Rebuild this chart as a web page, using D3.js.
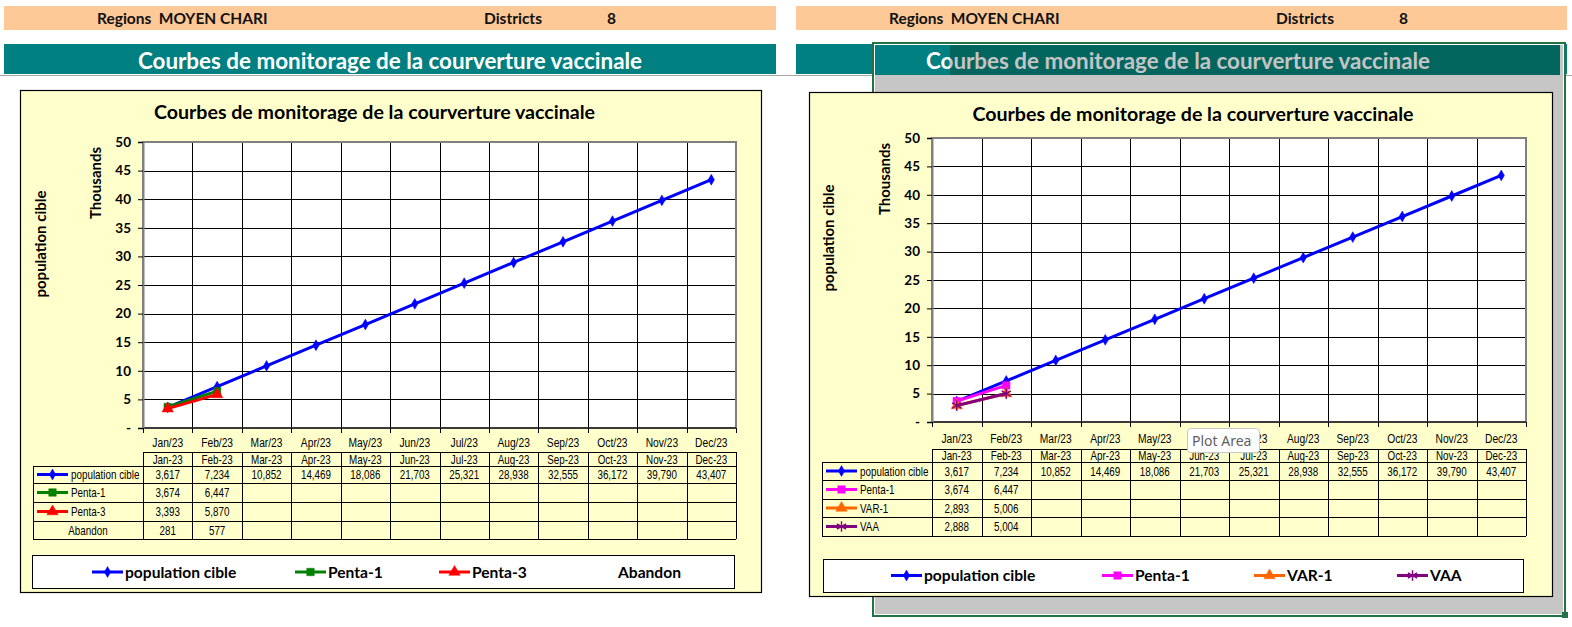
<!DOCTYPE html>
<html><head><meta charset="utf-8">
<script src="https://cdn.jsdelivr.net/npm/d3@7"></script>
<style>
html,body{margin:0;padding:0;background:#fff;}
svg{display:block;}
text{white-space:pre;}
</style></head><body>
<svg id="c" width="1572" height="627"></svg>
<script>
// ---------------- DATA ----------------
const monthsAxis  = ["Jan/23","Feb/23","Mar/23","Apr/23","May/23","Jun/23","Jul/23","Aug/23","Sep/23","Oct/23","Nov/23","Dec/23"];
const monthsTable = ["Jan-23","Feb-23","Mar-23","Apr-23","May-23","Jun-23","Jul-23","Aug-23","Sep-23","Oct-23","Nov-23","Dec-23"];
const popCible = [3617,7234,10852,14469,18086,21703,25321,28938,32555,36172,39790,43407];
const penta1   = [3674,6447];
const penta3   = [3393,5870];
const abandon  = [281,577];
const var1     = [2893,5006];
const vaa      = [2888,5004];
const yTicks      = [0,5000,10000,15000,20000,25000,30000,35000,40000,45000,50000];
const yTickLabels = ["-","5","10","15","20","25","30","35","40","45","50"];
const headerRegion = "Regions  MOYEN CHARI";
const headerDistrictsLabel = "Districts";
const headerDistrictsValue = "8";
const mainTitle = "Courbes de monitorage de la courverture vaccinale";

// ---------------- LAYOUT ----------------
const BOLD = "Lato, 'Open Sans', sans-serif";
const ARIAL = "'Liberation Sans', Arial, sans-serif";
const NARROW = 0.82;
const svg = d3.select("#c");
const defs = svg.append("defs");
defs.append("clipPath").attr("id","clipW").append("rect").attr("x",0).attr("y",0).attr("width",950).attr("height",627);
defs.append("clipPath").attr("id","clipG").append("rect").attr("x",950).attr("y",0).attr("width",700).attr("height",627);

svg.append("rect").attr("width",1572).attr("height",627).attr("fill","#fff");

// header bands
const bands = [{x0:4,x1:776},{x0:796,x1:1567}];
bands.forEach(b=>{
  svg.append("rect").attr("x",b.x0).attr("y",6).attr("width",b.x1-b.x0).attr("height",24).attr("fill","#FCC997");
  svg.append("rect").attr("x",b.x0).attr("y",44).attr("width",b.x1-b.x0).attr("height",30).attr("fill","#008080");
  const t = (x,s)=>svg.append("text").attr("x",x).attr("y",23.5).attr("font-family",BOLD).attr("font-weight","bold").attr("font-size",15.5).attr("fill","#111").text(s);
  t(b.x0+93, headerRegion);
  t(b.x0+480, headerDistrictsLabel);
  t(b.x0+603, headerDistrictsValue);
});
svg.append("line").attr("x1",0).attr("x2",1572).attr("y1",75.5).attr("y2",75.5).attr("stroke","#A6A6A6").attr("stroke-width",1);

// left teal title
svg.append("text").attr("x",390).attr("y",68.5).attr("text-anchor","middle").attr("font-family",BOLD).attr("font-weight","bold").attr("font-size",22.4).attr("fill","#fff").text(mainTitle);

// right selected chart-object overlay
svg.append("rect").attr("x",873).attr("y",43).attr("width",692).attr("height",573).attr("fill","#C6C6C6");
svg.append("rect").attr("x",873).attr("y",44).attr("width",77).attr("height",31).attr("fill","#008080");
svg.append("rect").attr("x",950).attr("y",44).attr("width",610).attr("height",31).attr("fill","#02665F");
svg.append("text").attr("x",1178).attr("y",68.5).attr("text-anchor","middle").attr("font-family",BOLD).attr("font-weight","bold").attr("font-size",22.4).attr("fill","#fff").attr("clip-path","url(#clipW)").text(mainTitle);
svg.append("text").attr("x",1178).attr("y",68.5).attr("text-anchor","middle").attr("font-family",BOLD).attr("font-weight","bold").attr("font-size",22.4).attr("fill","#C4C4C4").attr("clip-path","url(#clipG)").text(mainTitle);
svg.append("rect").attr("x",874.5).attr("y",44.5).attr("width",689).attr("height",570).attr("fill","none").attr("stroke","#fff").attr("stroke-width",1);
svg.append("rect").attr("x",873).attr("y",43).attr("width",692).attr("height",573).attr("fill","none").attr("stroke","#217346").attr("stroke-width",2);
svg.append("rect").attr("x",1562).attr("y",612).attr("width",6).attr("height",6).attr("fill","#217346");

const panels = [
  { box:[20,90,761,592], title:[374.5,118.5], plot:[143,142,736,428], rows:[452,466,483,502,521,539], tableLeft:33,
    legend:[32,555,734,588], legendX:[92,295,439,585], legendY:572, yTitle:[41,244], thTitle:[96,183], catY:447,
    series:[
      {name:"population cible", values:popCible, color:"#0000FF", marker:"diamond"},
      {name:"Penta-1", values:penta1, color:"#008000", marker:"square"},
      {name:"Penta-3", values:penta3, color:"#FF0000", marker:"triangle"},
      {name:"Abandon", values:abandon, color:null}
    ]},
  { box:[809,92,1552,596], title:[1193,120.5], plot:[932,138,1526,422], rows:[449,462,480,499,517,536], tableLeft:822,
    legend:[823,559,1523,592], legendX:[891,1102,1254,1397], legendY:575.5, yTitle:[829,238], thTitle:[885,179], catY:443,
    series:[
      {name:"population cible", values:popCible, color:"#0000FF", marker:"diamond"},
      {name:"Penta-1", values:penta1, color:"#FF00FF", marker:"square"},
      {name:"VAR-1", values:var1, color:"#FF6600", marker:"triangle"},
      {name:"VAA", values:vaa, color:"#800080", marker:"asterisk"}
    ]}
];

function markerPath(type){
  const m = {diamond:[d3.symbolDiamond,34], square:[d3.symbolSquare,56], triangle:[d3.symbolTriangle,56], asterisk:[d3.symbolAsterisk||d3.symbolCross,80]}[type];
  return d3.symbol(m[0], m[1])();
}
function drawMarker(g, type, color, x, y){
  const p = g.append("path").attr("d", markerPath(type)).attr("transform",`translate(${x},${y})`);
  if(type==="asterisk") p.attr("fill","none").attr("stroke",color).attr("stroke-width",1.4);
  else p.attr("fill",color).attr("stroke",color).attr("stroke-width",0.5);
}
function narrowText(g, x, y, s, anchor, size){
  g.append("text").attr("transform",`translate(${x},${y}) scale(${NARROW},1)`)
   .attr("text-anchor",anchor||"middle").attr("font-family",ARIAL).attr("font-size",size||12).attr("fill","#000").text(s);
}

panels.forEach(P=>{
  const g = svg.append("g");
  const [bx0,by0,bx1,by1] = P.box;
  g.append("rect").attr("x",bx0+0.5).attr("y",by0+0.5).attr("width",bx1-bx0).attr("height",by1-by0).attr("fill","#FFFFCC").attr("stroke","#000").attr("stroke-width",1.2);
  g.append("text").attr("x",P.title[0]).attr("y",P.title[1]).attr("text-anchor","middle").attr("font-family",BOLD).attr("font-weight","bold").attr("font-size",19.6).attr("fill","#000").text(mainTitle);

  const [px0,py0,px1,py1] = P.plot;
  const x = d3.scaleBand().domain(monthsAxis).range([px0,px1]);
  const y = d3.scaleLinear().domain([0,50000]).range([py1,py0]);
  const bw = x.bandwidth();
  const cx = i => x(monthsAxis[i]) + bw/2;

  g.append("rect").attr("x",px0).attr("y",py0).attr("width",px1-px0).attr("height",py1-py0).attr("fill","#fff");
  // grid
  const grid = g.append("g");
  yTicks.slice(1,-1).forEach(v=>grid.append("line").attr("x1",px0).attr("x2",px1).attr("y1",Math.round(y(v))+0.5).attr("y2",Math.round(y(v))+0.5).attr("stroke","#000").attr("stroke-width",1));
  monthsAxis.slice(1).forEach(m=>grid.append("line").attr("x1",Math.round(x(m))+0.5).attr("x2",Math.round(x(m))+0.5).attr("y1",py0).attr("y2",py1).attr("stroke","#000").attr("stroke-width",1));
  g.append("rect").attr("x",px0).attr("y",py0).attr("width",px1-px0).attr("height",py1-py0).attr("fill","none").attr("stroke","#808080").attr("stroke-width",2);
  g.append("line").attr("x1",px0).attr("x2",px1).attr("y1",py1).attr("y2",py1).attr("stroke","#3a3a3a").attr("stroke-width",2);

  // y axis
  const ya = g.append("g").attr("transform",`translate(${px0},0)`)
    .call(d3.axisLeft(y).tickValues(yTicks).tickSize(5).tickPadding(7).tickFormat((d,i)=>yTickLabels[i]));
  ya.select(".domain").attr("stroke","#808080").attr("stroke-width",2);
  ya.selectAll(".tick line").attr("stroke","#000");
  ya.selectAll(".tick text").attr("font-family",BOLD).attr("font-weight","bold").attr("font-size",13.5).attr("fill","#000");

  // x tick marks at boundaries
  const bounds = monthsAxis.map(m=>x(m)).concat([px1]);
  bounds.forEach(b=>g.append("line").attr("x1",Math.round(b)+0.5).attr("x2",Math.round(b)+0.5).attr("y1",py1).attr("y2",py1+5).attr("stroke","#000"));
  monthsAxis.forEach((m,i)=>narrowText(g, cx(i), P.catY, m, "middle", 12.5));

  // axis titles
  g.append("text").attr("transform",`translate(${P.yTitle[0]},${P.yTitle[1]}) rotate(-90)`).attr("text-anchor","middle").attr("dy","0.35em")
    .attr("font-family",BOLD).attr("font-weight","bold").attr("font-size",15).attr("fill","#000").text("population cible");
  g.append("text").attr("transform",`translate(${P.thTitle[0]},${P.thTitle[1]}) rotate(-90)`).attr("text-anchor","middle").attr("dy","0.35em")
    .attr("font-family",BOLD).attr("font-weight","bold").attr("font-size",15).attr("fill","#000").text("Thousands");

  // series
  const line = d3.line().x((d,i)=>cx(i)).y(d=>y(d));
  P.series.filter(s=>s.color).forEach(s=>{
    g.append("path").attr("d",line(s.values)).attr("fill","none").attr("stroke",s.color).attr("stroke-width",3);
    s.values.forEach((v,i)=>drawMarker(g, s.marker, s.color, cx(i), y(v)));
  });

  // data table
  const R = P.rows, tl = P.tableLeft;
  const tg = g.append("g");
  const hl = (x1,x2,yy)=>tg.append("line").attr("x1",x1).attr("x2",x2).attr("y1",yy+0.5).attr("y2",yy+0.5).attr("stroke","#000").attr("stroke-width",1);
  const vl = (xx,y1,y2)=>tg.append("line").attr("x1",Math.round(xx)+0.5).attr("x2",Math.round(xx)+0.5).attr("y1",y1).attr("y2",y2).attr("stroke","#000").attr("stroke-width",1);
  hl(px0,px1,R[0]);
  for(let k=1;k<R.length;k++) hl(tl,px1,R[k]);
  bounds.forEach(b=>vl(b,R[0],R[R.length-1]));
  vl(tl,R[1],R[R.length-1]);
  monthsTable.forEach((m,i)=>narrowText(tg, cx(i), (R[0]+R[1])/2+4.5, m, "middle", 12));
  const fmt = d3.format(",");
  P.series.forEach((s,k)=>{
    const ym = (R[k+1]+R[k+2])/2;
    if(s.color){
      tg.append("line").attr("x1",tl+4).attr("x2",tl+35).attr("y1",ym).attr("y2",ym).attr("stroke",s.color).attr("stroke-width",3);
      drawMarker(tg, s.marker, s.color, tl+19.5, ym);
      narrowText(tg, tl+38, ym+4.5, s.name, "start", 12);
    } else {
      narrowText(tg, (tl+px0)/2, ym+4.5, s.name, "middle", 12);
    }
    s.values.forEach((v,i)=>narrowText(tg, cx(i), ym+4.5, fmt(v), "middle", 12));
  });

  // legend
  const [lx0,ly0,lx1,ly1] = P.legend;
  g.append("rect").attr("x",lx0+0.5).attr("y",ly0+0.5).attr("width",lx1-lx0).attr("height",ly1-ly0).attr("fill","#fff").attr("stroke","#000").attr("stroke-width",1);
  P.series.forEach((s,k)=>{
    const lx = P.legendX[k], ly = P.legendY;
    if(s.color){
      g.append("line").attr("x1",lx).attr("x2",lx+31).attr("y1",ly).attr("y2",ly).attr("stroke",s.color).attr("stroke-width",3);
      drawMarker(g, s.marker, s.color, lx+15.5, ly);
    }
    g.append("text").attr("x",lx+33).attr("y",ly+5.5).attr("font-family",BOLD).attr("font-weight","bold").attr("font-size",15.6).attr("fill","#000").text(s.name);
  });
});

// "Plot Area" tooltip
svg.append("rect").attr("x",1187.5).attr("y",428.5).attr("width",72).attr("height",24).attr("rx",3).attr("fill","#fff").attr("stroke","#C8C8C8");
svg.append("text").attr("x",1192).attr("y",445.5).attr("font-family","'Noto Sans', 'Open Sans', sans-serif").attr("font-size",14).attr("fill","#5F5F5F").text("Plot Area");
</script>
</body></html>
